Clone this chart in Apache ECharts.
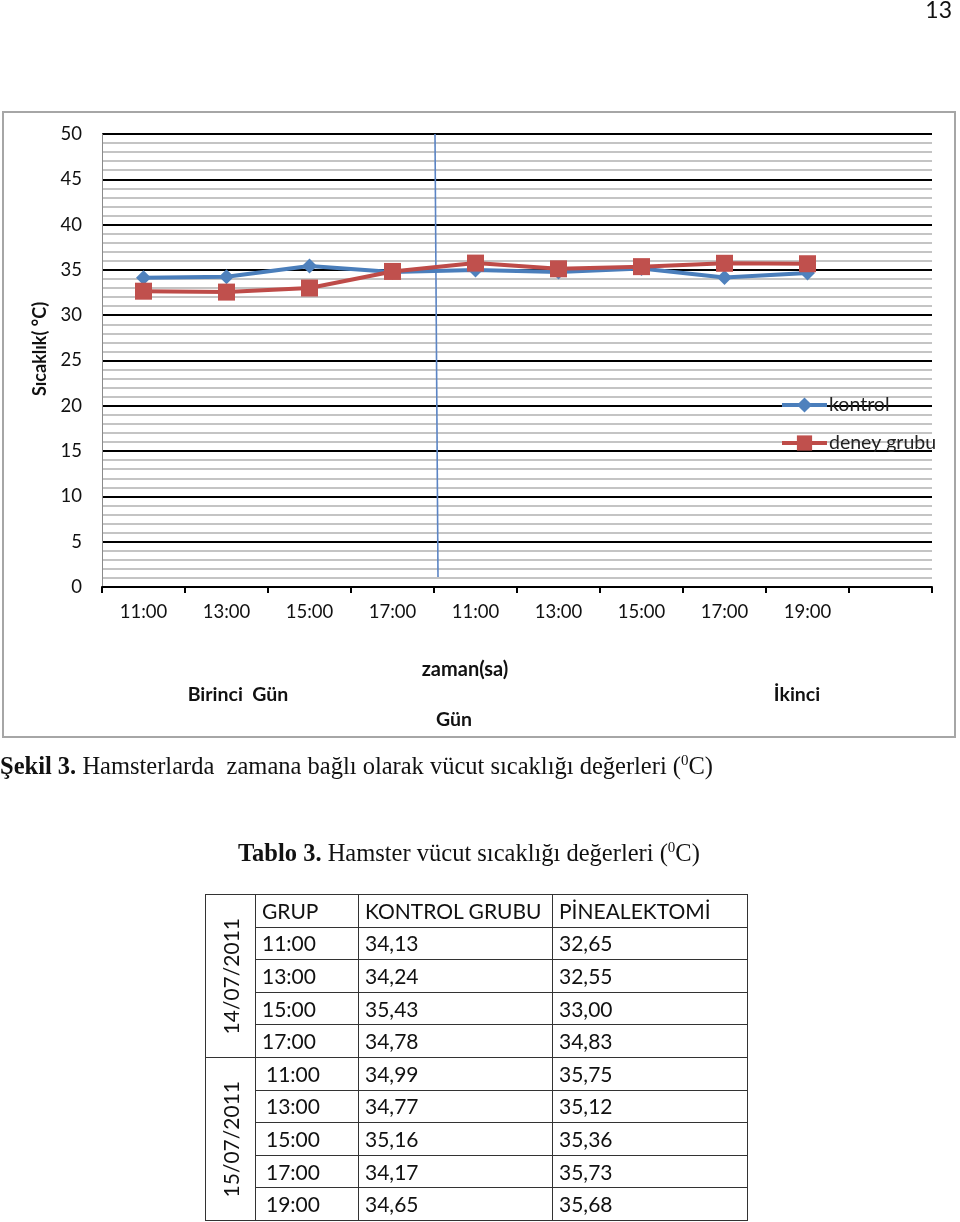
<!DOCTYPE html>
<html>
<head>
<meta charset="utf-8">
<script src="https://cdn.jsdelivr.net/npm/echarts@6/dist/echarts.min.js"></script>
<style>
  html, body { margin: 0; padding: 0; background: #fff; }
  #page { position: relative; width: 960px; height: 1222px; overflow: hidden; background: #fff; }
  #chart { position: absolute; left: 0; top: 0; width: 960px; height: 1222px; }
  .ov { position: absolute; z-index: 5; white-space: nowrap; }
  #pgno { right: 8px; top: -5px; font: 23px Lato, Carlito, sans-serif; color: #111; }
  .serif { font-family: "Liberation Serif", "Times New Roman", serif; font-size: 24.5px; color: #111; }
  #cap1 { left: 0; top: 752px; }
  #cap2 { left: 238px; top: 839px; }
  sup { font-size: 15px; vertical-align: 9px; line-height: 0; }
  #tbl { position: absolute; z-index: 5; left: 205px; top: 894px; border-collapse: collapse;
         font: 21px Lato, Carlito, sans-serif; color: #111; }
  #tbl td { border: 1.6px solid #333; height: 28.6px; padding: 0 0 0 6px; line-height: 20px; vertical-align: middle; box-sizing: border-box; }
  #tbl td.date { width: 50px; padding: 0; text-align: center; }
  #tbl td.date div { writing-mode: vertical-rl; transform: rotate(180deg); margin: 0 auto; }
  #tbl td.t2 { padding-left: 10px; }
</style>
</head>
<body>
<div id="page">
  <div id="chart"></div>
  <div id="pgno" class="ov">13</div>
  <div id="cap1" class="ov serif"><b>Şekil 3.</b> Hamsterlarda&nbsp; zamana bağlı olarak vücut sıcaklığı değerleri (<sup>0</sup>C)</div>
  <div id="cap2" class="ov serif"><b>Tablo 3.</b> Hamster vücut sıcaklığı değerleri (<sup>0</sup>C)</div>
  <table id="tbl"></table>
</div>
<script>
// ---- data ----
const timesDay1 = ['11:00', '13:00', '15:00', '17:00'];
const timesDay2 = ['11:00', '13:00', '15:00', '17:00', '19:00'];
const kontrol = [34.13, 34.24, 35.43, 34.78, 34.99, 34.77, 35.16, 34.17, 34.65];
const deney   = [32.65, 32.55, 33.00, 34.83, 35.75, 35.12, 35.36, 35.73, 35.68];
const seriesNames = ['kontrol', 'deney grubu'];
const yTicks = { min: 0, max: 50, interval: 5 };
const dates = ['14/07/2011', '15/07/2011'];
const tableHeader = ['GRUP', 'KONTROL GRUBU', 'PİNEALEKTOMİ'];

// categories (unique keys, label shows time only; one empty trailing slot)
const categories = [];
timesDay1.forEach((t, i) => categories.push('a' + i + '|' + t));
timesDay2.forEach((t, i) => categories.push('b' + i + '|' + t));
categories.push('z|');

const FONT = 'Lato';
const chart = echarts.init(document.getElementById('chart'), null, { renderer: 'canvas' });

const option = {
  animation: false,
  backgroundColor: 'transparent',
  textStyle: { fontFamily: FONT },
  grid: { left: 102, right: 28, top: 134, bottom: 635, containLabel: false },
  legend: {
    show: true,
    orient: 'vertical',
    left: 780, top: 395,
    itemWidth: 45, itemHeight: 19, itemGap: 18,
    padding: 0,
    lineStyle: { width: 4 },
    textStyle: { fontFamily: FONT, fontSize: 19.5, color: '#222', padding: [0, 0, 0, -3] },
    data: seriesNames
  },
  xAxis: {
    type: 'category',
    data: categories,
    boundaryGap: true,
    axisLine: { show: true, lineStyle: { color: '#000', width: 2 } },
    axisTick: { show: true, interval: 0, length: 6, lineStyle: { color: '#000', width: 2 } },
    axisLabel: {
      interval: 0, margin: 16, fontFamily: FONT, fontSize: 18.5, color: '#111',
      formatter: v => v.split('|')[1]
    },
    splitLine: { show: false }
  },
  yAxis: {
    type: 'value',
    min: yTicks.min, max: yTicks.max, interval: yTicks.interval,
    axisLine: { show: true, lineStyle: { color: '#8a8a8a', width: 1 } },
    axisTick: { show: false },
    axisLabel: { margin: 20, fontFamily: FONT, fontSize: 18.5, color: '#111' },
    splitLine: { show: true, lineStyle: { color: '#000', width: 2 } },
    minorTick: { show: false, splitNumber: 5 },
    minorSplitLine: { show: true, lineStyle: { color: '#c4c4c4', width: 2 } }
  },
  series: [
    {
      name: seriesNames[0], type: 'line', data: kontrol,
      symbol: 'diamond', symbolSize: 15,
      lineStyle: { color: '#4A7EBB', width: 4 },
      itemStyle: { color: '#4F81BD' },
      z: 3
    },
    {
      name: seriesNames[1], type: 'line', data: deney,
      symbol: 'rect', symbolSize: 17,
      lineStyle: { color: '#BE4B48', width: 4 },
      itemStyle: { color: '#C0504D' },
      z: 4
    }
  ],
  graphic: [
    { type: 'rect', z: -10, silent: true,
      shape: { x: 3, y: 112, width: 952, height: 625 },
      style: { fill: 'none', stroke: '#a6a6a6', lineWidth: 2 } },
    { type: 'text', rotation: Math.PI / 2, x: 31, y: 349, silent: true,
      style: { text: 'Sıcaklık( °C)', font: 'bold 18px ' + FONT, fill: '#111', align: 'center', verticalAlign: 'top' } },
    { type: 'text', x: 465, y: 670, silent: true,
      style: { text: 'zaman(sa)', font: 'bold 20px ' + FONT, fill: '#111', align: 'center', verticalAlign: 'middle' } },
    { type: 'text', x: 238, y: 695, silent: true,
      style: { text: 'Birinci  Gün', font: 'bold 19.5px ' + FONT, fill: '#111', align: 'center', verticalAlign: 'middle' } },
    { type: 'text', x: 797, y: 695, silent: true,
      style: { text: 'İkinci', font: 'bold 19.5px ' + FONT, fill: '#111', align: 'center', verticalAlign: 'middle' } },
    { type: 'text', x: 454, y: 720, silent: true,
      style: { text: 'Gün', font: 'bold 19.5px ' + FONT, fill: '#111', align: 'center', verticalAlign: 'middle' } }
  ]
};
chart.setOption(option);

// day divider line, placed from the axis scales (boundary between day 1 and day 2)
const p3 = chart.convertToPixel({ xAxisIndex: 0 }, categories[timesDay1.length - 1]);
const p4 = chart.convertToPixel({ xAxisIndex: 0 }, categories[timesDay1.length]);
const xb = (p3 + p4) / 2;
const yTop = chart.convertToPixel({ yAxisIndex: 0 }, yTicks.max);
const yBot = chart.convertToPixel({ yAxisIndex: 0 }, 1.1);
option.graphic.push({
  type: 'line', z: 2, silent: true,
  shape: { x1: xb + 1, y1: yTop, x2: xb + 4, y2: yBot },
  style: { stroke: '#5B84C4', lineWidth: 1.6 }
});
chart.setOption({ graphic: option.graphic });

// ---- table ----
const fmt = v => v.toFixed(2).replace('.', ',');
const tbl = document.getElementById('tbl');
const colW = [50, 103, 194, 195];
let html = '<colgroup>' + colW.map(w => '<col style="width:' + w + 'px">').join('') + '</colgroup>';
const rowH = 32.6;
html += '<tr style="height:' + rowH + 'px"><td class="date" rowspan="' + (timesDay1.length + 1) + '"><div>' + dates[0] + '</div></td>' +
        tableHeader.map(h => '<td>' + h + '</td>').join('') + '</tr>';
timesDay1.forEach((t, i) => {
  html += '<tr style="height:' + rowH + 'px"><td>' + t + '</td><td>' + fmt(kontrol[i]) + '</td><td>' + fmt(deney[i]) + '</td></tr>';
});
timesDay2.forEach((t, j) => {
  const i = timesDay1.length + j;
  html += '<tr style="height:' + rowH + 'px">' +
          (j === 0 ? '<td class="date" rowspan="' + timesDay2.length + '"><div>' + dates[1] + '</div></td>' : '') +
          '<td class="t2">' + t + '</td><td>' + fmt(kontrol[i]) + '</td><td>' + fmt(deney[i]) + '</td></tr>';
});
tbl.innerHTML = html;
</script>
</body>
</html>
